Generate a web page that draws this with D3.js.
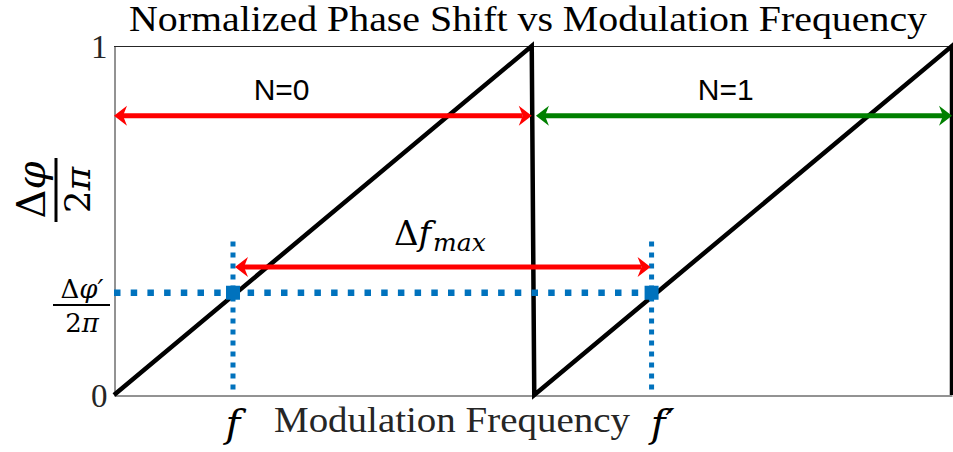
<!DOCTYPE html>
<html>
<head>
<meta charset="utf-8">
<script src="https://cdn.jsdelivr.net/npm/d3@7"></script>
<style>
  html, body { margin: 0; padding: 0; background: #fff; }
  svg { display: block; }
</style>
</head>
<body>
<svg id="chart" width="953" height="452"></svg>
<script>
// Normalised phase (Δφ / 2π) against modulation frequency: a wrapped sawtooth.
const sawFreq  = [0, 0.997, 1.003, 2, 2];
const sawPhase = [0, 1, 0, 1, 0];

// Axis ticks
const yTickValues = [0, 1];
const yTickLabels = ["0", "1"];

// Measured phase and the two frequencies that produce it
const phasePrime = 0.293;
const markFreq   = [0.284, 1.283];
const markLabels = ["f", "f′"];

// Wrap-count ranges (N) drawn as double arrows
const cycleLabels = ["N=0", "N=1"];
const cycleStart  = [0, 1.007];
const cycleEnd    = [0.997, 2];
const cycleLevel  = 0.8;
const cycleLabelFreq  = [0.4, 1.46];
const cycleLabelLevel = 0.845;

// Ambiguity span between f and f'
const spanLevel = 0.367;
const guideTop  = 0.44;

const svg = d3.select("#chart");
const margin = { left: 114, top: 46, right: 1, bottom: 57 };
const W = 953, H = 452;

const x = d3.scaleLinear().domain([0, 2]).range([margin.left, W - margin.right]);
const y = d3.scaleLinear().domain([0, 1]).range([H - margin.bottom, margin.top]);

const serif = "'Liberation Serif', 'DejaVu Serif', serif";
const math  = "'DejaVu Serif', 'Liberation Serif', serif";
const sans  = "'Liberation Sans', Arial, sans-serif";

// Title
svg.append("text")
  .attr("x", 528).attr("y", 31)
  .attr("text-anchor", "middle")
  .attr("font-family", serif).attr("font-size", 35)
  .attr("textLength", 798).attr("lengthAdjust", "spacingAndGlyphs")
  .attr("fill", "#000")
  .text("Normalized Phase Shift vs Modulation Frequency");

// Axes frame
const axisColor = "#262626";
const gx = svg.append("g")
  .attr("transform", `translate(0,${y(0) + 0.5})`)
  .call(d3.axisBottom(x).tickValues([]).tickSizeOuter(0));
gx.select(".domain").attr("stroke", axisColor);

const gy = svg.append("g")
  .attr("transform", `translate(${x(0) + 0.5},0)`)
  .call(d3.axisLeft(y).tickValues(yTickValues).tickSize(0)
        .tickFormat((d, i) => yTickLabels[i]));
gy.select(".domain").attr("stroke", axisColor);
gy.selectAll("text")
  .attr("font-family", serif).attr("font-size", 33)
  .attr("fill", "#262626")
  .attr("x", -7).attr("dy", "0.34em");

svg.append("line")
  .attr("x1", x(0)).attr("x2", x(2))
  .attr("y1", y(1) + 0.5).attr("y2", y(1) + 0.5)
  .attr("stroke", axisColor).attr("stroke-width", 1);
svg.append("line")
  .attr("x1", x(2) - 0.5).attr("x2", x(2) - 0.5)
  .attr("y1", y(1)).attr("y2", y(0))
  .attr("stroke", axisColor).attr("stroke-width", 1);

// Sawtooth
const line = d3.line().x((d, i) => x(sawFreq[i])).y((d, i) => y(sawPhase[i]));
svg.append("path")
  .datum(sawFreq)
  .attr("d", line)
  .attr("fill", "none")
  .attr("stroke", "#000")
  .attr("stroke-width", 4.5)
  .attr("stroke-linejoin", "miter");

// Dotted guides
const blue = "#0072BD";
svg.append("line")
  .attr("x1", x(0)).attr("x2", x(markFreq[1]))
  .attr("y1", y(phasePrime)).attr("y2", y(phasePrime))
  .attr("stroke", blue).attr("stroke-width", 6.5)
  .attr("stroke-dasharray", "6.5 10.2");

markFreq.forEach(f => {
  svg.append("line")
    .attr("x1", x(f)).attr("x2", x(f))
    .attr("y1", y(guideTop)).attr("y2", y(0))
    .attr("stroke", blue).attr("stroke-width", 5)
    .attr("stroke-dasharray", "5 6");
});

svg.selectAll("rect.mark")
  .data(markFreq)
  .enter().append("rect")
  .attr("class", "mark")
  .attr("x", d => x(d) - 7).attr("y", y(phasePrime) - 7)
  .attr("width", 14).attr("height", 14)
  .attr("fill", blue);

// Double arrows with swept-back heads
function doubleArrow(x1, x2, yy, color) {
  const g = svg.append("g");
  const len = 13, half = 10, notch = 9;
  g.append("line")
    .attr("x1", x1 + notch).attr("x2", x2 - notch)
    .attr("y1", yy).attr("y2", yy)
    .attr("stroke", color).attr("stroke-width", 5);
  const head = (tip, dir) => [
    [tip, yy],
    [tip + dir * len, yy - half],
    [tip + dir * notch, yy],
    [tip + dir * len, yy + half]
  ];
  [head(x1, 1), head(x2, -1)].forEach(pts => {
    g.append("path")
      .attr("d", "M" + pts.map(p => p.join(",")).join("L") + "Z")
      .attr("fill", color);
  });
}

const cycleColors = ["#ff0000", "#008000"];
cycleLabels.forEach((lab, i) => {
  doubleArrow(x(cycleStart[i]), x(cycleEnd[i]), y(cycleLevel), cycleColors[i]);
  svg.append("text")
    .attr("x", x(cycleLabelFreq[i])).attr("y", y(cycleLabelLevel))
    .attr("text-anchor", "middle")
    .attr("font-family", sans).attr("font-size", 30)
    .attr("fill", "#000")
    .text(lab);
});

doubleArrow(x(markFreq[0]) + 2, x(markFreq[1]) - 1, y(spanLevel), "#ff0000");

// Δf_max label
const span = svg.append("text")
  .attr("x", x(0.668)).attr("y", y(0.43))
  .attr("font-family", math).attr("font-size", 34)
  .attr("fill", "#000");
span.append("tspan").text("Δ");
span.append("tspan").attr("font-style", "italic").text("f");
span.append("tspan").attr("font-style", "italic").attr("font-size", 25)
  .attr("dy", 6).attr("dx", 2).text("max");

// x-axis label and frequency marks
svg.append("text")
  .attr("x", 452).attr("y", 432)
  .attr("text-anchor", "middle")
  .attr("font-family", serif).attr("font-size", 36)
  .attr("textLength", 356).attr("lengthAdjust", "spacingAndGlyphs")
  .attr("fill", "#262626")
  .text("Modulation Frequency");

markLabels.forEach((lab, i) => {
  svg.append("text")
    .attr("x", x(markFreq[i]) + (i === 0 ? 0 : 11)).attr("y", 437)
    .attr("text-anchor", "middle")
    .attr("font-family", math).attr("font-size", 40)
    .attr("font-style", "italic")
    .attr("fill", "#000")
    .text(lab);
});

// y-axis label: Δφ / 2π
const yl = svg.append("g").attr("transform", "translate(56,190) rotate(-90)");
const num = yl.append("text")
  .attr("x", 0).attr("y", -11)
  .attr("text-anchor", "middle")
  .attr("font-family", math).attr("font-size", 40)
  .attr("fill", "#000");
num.append("tspan").text("Δ");
num.append("tspan").attr("font-style", "italic").text("φ");
yl.append("line")
  .attr("x1", -32).attr("x2", 32).attr("y1", 0).attr("y2", 0)
  .attr("stroke", "#000").attr("stroke-width", 3);
const den = yl.append("text")
  .attr("x", 0).attr("y", 34)
  .attr("text-anchor", "middle")
  .attr("font-family", math).attr("font-size", 36)
  .attr("fill", "#000");
den.append("tspan").text("2");
den.append("tspan").attr("font-style", "italic").text("π");

// tick-style label for the measured phase: Δφ′ / 2π
const fy = 305, fx = 82;
const n2 = svg.append("text")
  .attr("x", fx).attr("y", fy - 7)
  .attr("text-anchor", "middle")
  .attr("font-family", math).attr("font-size", 26)
  .attr("fill", "#000");
n2.append("tspan").text("Δ");
n2.append("tspan").attr("font-style", "italic").text("φ′");
svg.append("line")
  .attr("x1", fx - 29).attr("x2", fx + 28).attr("y1", fy).attr("y2", fy)
  .attr("stroke", "#000").attr("stroke-width", 2);
const d2 = svg.append("text")
  .attr("x", fx).attr("y", fy + 27)
  .attr("text-anchor", "middle")
  .attr("font-family", math).attr("font-size", 26)
  .attr("fill", "#000");
d2.append("tspan").text("2");
d2.append("tspan").attr("font-style", "italic").text("π");
</script>
</body>
</html>
